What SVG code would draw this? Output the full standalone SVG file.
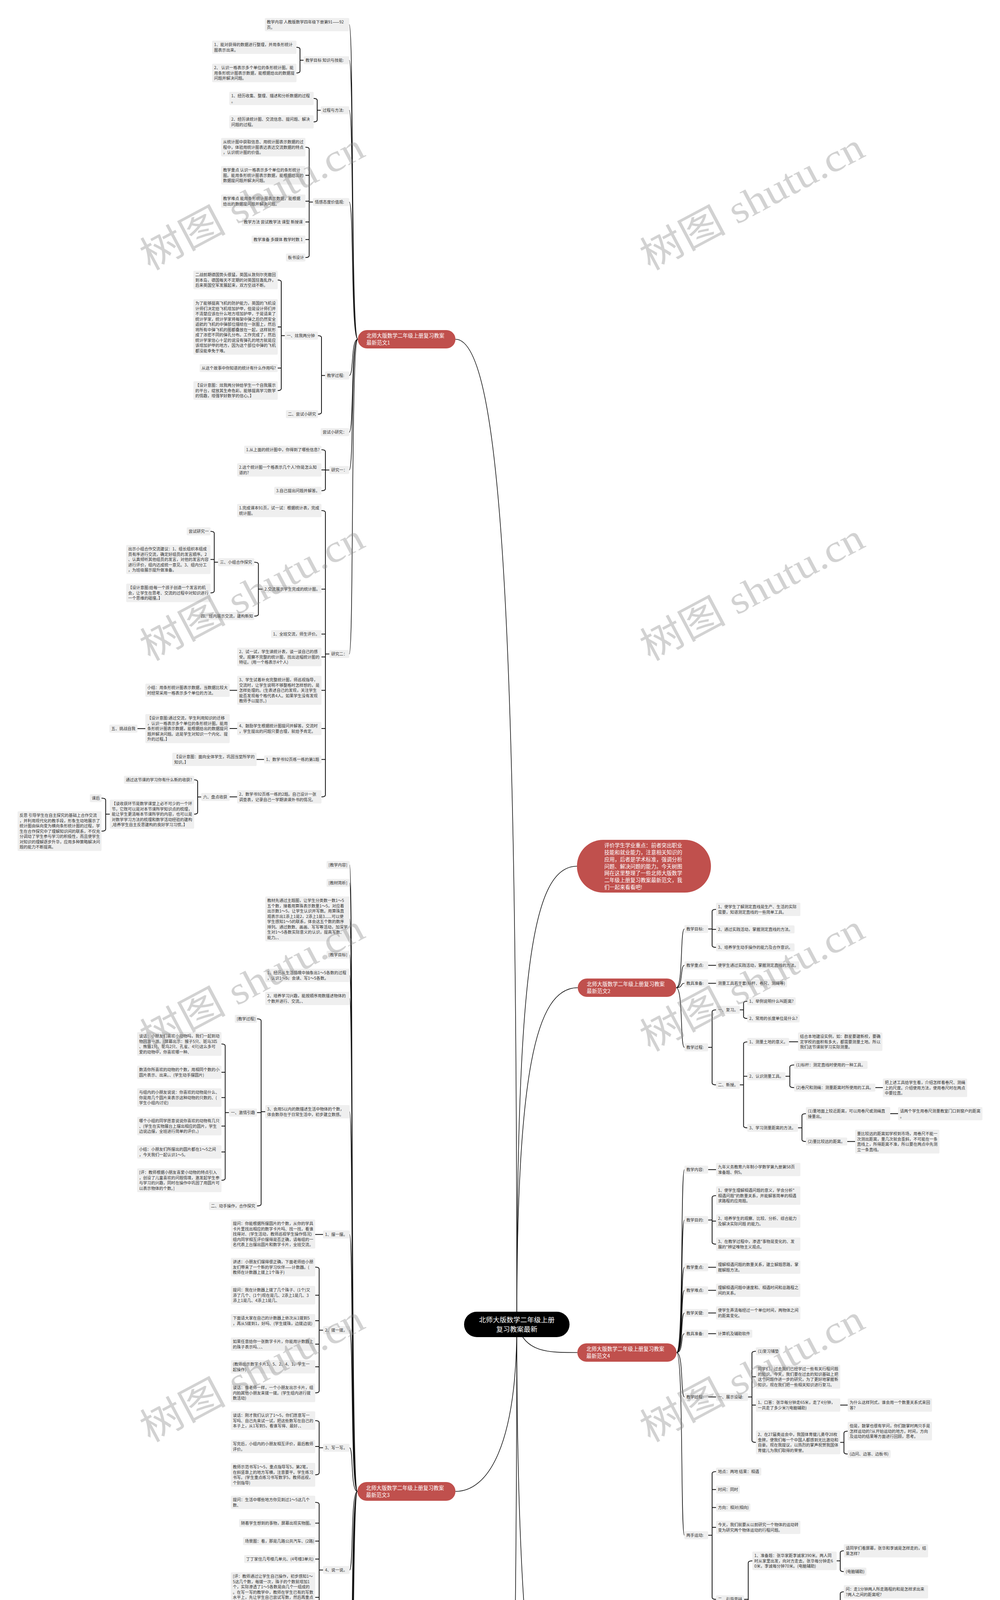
<svg xmlns="http://www.w3.org/2000/svg" width="2560" height="7147" viewBox="0 0 2560 7147">
<style>
.n rect{fill:#efefef;rx:3px}
.n text{font-family:"Noto Sans CJK SC","Liberation Sans",sans-serif;font-size:10.3px;fill:#333}
.br rect{fill:#c0504d}
.br text{font-family:"Noto Sans CJK SC","Liberation Sans",sans-serif;font-size:13.3px;fill:#fff}
.c{fill:none;stroke:#111;stroke-width:2}
.m{fill:none;stroke:#111;stroke-width:1.6}
.wm{font-family:"Liberation Serif","Noto Sans CJK SC",serif;font-size:100px;fill:#888;fill-opacity:.38}
</style>
<rect x="0" y="0" width="2560" height="7147" fill="#fff"/>
<g id="connectors">
<path class="m" d="M1323,3390.5C1323,1700 1290,868.5 1166,868.5"/>
<path class="m" d="M1323,3390.5C1323,2500 1360,2217.5 1477,2217.5"/>
<path class="m" d="M1323,3390.5C1323,2750 1370,2528.5 1479,2528.5"/>
<path class="m" d="M1323,3390.5C1345,3462.5 1400,3462.5 1478,3462.5"/>
<path class="m" d="M1323,3390.5C1323,4300 1380,4608 1478,4608"/>
<path class="m" d="M1323,3390.5C1323,3700 1250,3818 1166,3818"/>
<path class="m" d="M1323,3390.5C1323,5400 1250,5912.5 1166,5912.5"/>
<path class="m" d="M916,868.5C898,868.5 906,63 894,63M916,868.5C898,868.5 906,154.25 894,154.25M916,868.5C898,868.5 906,282.25 894,282.25M916,868.5C898,868.5 906,517.25 894,517.25M916,868.5C898,868.5 906,961.25 894,961.25M916,868.5C898,868.5 906,1106.25 894,1106.25M916,868.5C898,868.5 906,1203.25 894,1203.25M916,868.5C898,868.5 906,1674.25 894,1674.25"/>
<path class="c" d="M777,154.25H768M759,121Q768,121 768,126V181.75Q768,186.75 759,186.75"/>
<path class="c" d="M821,282.25H812M803,252Q812,252 812,257V307Q812,312 803,312"/>
<path class="c" d="M801,517.25H791.5M782,376.75Q791.5,376.75 791.5,381.75V654.25Q791.5,659.25 782,659.25M791.5,448.75H782M791.5,515H782M791.5,568.25H782M791.5,613.25H782"/>
<path class="c" d="M832,961.25H823M814,859.25Q823,859.25 823,864.25V1055.25Q823,1060.25 814,1060.25"/>
<path class="c" d="M729,859.25H720M711,716.75Q720,716.75 720,721.75V994.75Q720,999.75 711,999.75M720,837H711M720,942.25H711"/>
<path class="c" d="M843,1203.25H833M823,1151.25Q833,1151.25 833,1156.25V1251.25Q833,1256.25 823,1256.25M833,1203H823"/>
<path class="c" d="M843,1674.25H833M823,1307Q833,1307 833,1312V2035Q833,2040 823,2040M833,1508.25H823M833,1623.25H823M833,1681.75H823M833,1767.25H823M833,1865H823M833,1944.25H823"/>
<path class="c" d="M672,1508.25H661.5M651,1439.25Q661.5,1439.25 661.5,1444.25V1572.25Q661.5,1577.25 651,1577.25"/>
<path class="c" d="M558,1439.25H548.5M539,1360.25Q548.5,1360.25 548.5,1365.25V1512.75Q548.5,1517.75 539,1517.75M548.5,1432.25H539"/>
<path class="c" d="M607,1767.25H588M607,1865H588M372,1865.25H352M676,1944.25H657M607,2040H588"/>
<path class="c" d="M515,2040.25H506M497,1996.25Q506,1996.25 506,2001.25V2079.25Q506,2084.25 497,2084.25"/>
<path class="c" d="M281,2084.25H270.5M260,2043.25Q270.5,2043.25 270.5,2048.25V2122.75Q270.5,2127.75 260,2127.75"/>
<path class="m" d="M1731,2528.5C1749,2528.5 1741,2378.25 1752,2378.25M1731,2528.5C1749,2528.5 1741,2471.25 1752,2471.25M1731,2528.5C1749,2528.5 1741,2517.25 1752,2517.25M1731,2528.5C1749,2528.5 1741,2681.25 1752,2681.25"/>
<path class="c" d="M1813,2378.25H1823M1833,2328Q1823,2328 1823,2333V2420.25Q1823,2425.25 1833,2425.25M1823,2379.25H1833"/>
<path class="c" d="M1813,2471.25H1833M1813,2517.25H1833"/>
<path class="c" d="M1813,2681.25H1823M1833,2585.25Q1823,2585.25 1823,2590.25V2772.25Q1823,2777.25 1833,2777.25"/>
<path class="c" d="M1894,2585.25H1903.5M1913,2563.25Q1903.5,2563.25 1903.5,2568.25V2602.25Q1903.5,2607.25 1913,2607.25"/>
<path class="c" d="M1894,2777.25H1903.5M1913,2667.25Q1903.5,2667.25 1903.5,2672.25V2882.25Q1903.5,2887.25 1913,2887.25M1903.5,2755.25H1913"/>
<path class="c" d="M2020,2667H2043M2241,2784.25H2260M2279,2851H2299M2169,2922.25H2189"/>
<path class="c" d="M2011,2755.25H2022M2033,2726.25Q2022,2726.25 2022,2731.25V2779.25Q2022,2784.25 2033,2784.25"/>
<path class="c" d="M2043,2887.25H2053M2063,2851Q2053,2851 2053,2856V2917.25Q2053,2922.25 2063,2922.25"/>
<path class="m" d="M1732,3462.5C1750,3462.5 1742,2994.25 1752,2994.25M1732,3462.5C1750,3462.5 1742,3123.25 1752,3123.25M1732,3462.5C1750,3462.5 1742,3244.25 1752,3244.25M1732,3462.5C1750,3462.5 1742,3303.25 1752,3303.25M1732,3462.5C1750,3462.5 1742,3361.25 1752,3361.25M1732,3462.5C1750,3462.5 1742,3414.25 1752,3414.25M1732,3462.5C1750,3462.5 1742,3576.25 1752,3576.25M1732,3462.5C1750,3462.5 1742,3930.25 1752,3930.25"/>
<path class="c" d="M1813,2994.25H1833M1813,3244.25H1833M1813,3303.25H1833M1813,3361.25H1833M1813,3414.25H1833M1813,3576.25H1833M2151,3597H2170"/>
<path class="c" d="M1813,3123.25H1823M1833,3060.75Q1823,3060.75 1823,3065.75V3180Q1823,3185 1833,3185M1823,3126H1833"/>
<path class="c" d="M1915,3576.25H1925M1935,3459.25Q1925,3459.25 1925,3464.25V3687.5Q1925,3692.5 1935,3692.5M1925,3524.5H1935M1925,3597H1935"/>
<path class="c" d="M2151,3692.5H2160.5M2170,3663.75Q2160.5,3663.75 2160.5,3668.75V3717.25Q2160.5,3722.25 2170,3722.25"/>
<path class="c" d="M1813,3930.25H1823M1833,3767.25Q1823,3767.25 1823,3772.25V4089.25Q1823,4094.25 1833,4094.25M1823,3813.25H1833M1823,3859.25H1833M1823,3910H1833"/>
<path class="c" d="M1905,4094.25H1915.5M1926,3995.75Q1915.5,3995.75 1915.5,4000.75V4186.75Q1915.5,4191.75 1926,4191.75"/>
<path class="c" d="M2142,3995.75H2151M2160,3970Q2151,3970 2151,3975V4018.25Q2151,4023.25 2160,4023.25"/>
<path class="c" d="M2142,4191.75H2151M2160,4075Q2151,4075 2151,4080V4305Q2151,4310 2160,4310M2151,4126.25H2160M2151,4185.75H2160M2151,4252H2160"/>
<path class="m" d="M1732,4608C1750,4608 1742,4369 1753,4369M1732,4608C1750,4608 1742,4422.25 1753,4422.25M1732,4608C1750,4608 1742,4468.25 1753,4468.25M1732,4608C1750,4608 1742,4521 1753,4521M1732,4608C1750,4608 1742,4572.25 1753,4572.25M1732,4608C1750,4608 1742,4625 1753,4625M1732,4608C1750,4608 1742,4684 1753,4684M1732,4608C1750,4608 1742,4743 1753,4743M1732,4608C1750,4608 1742,4794.25 1753,4794.25M1732,4608C1750,4608 1742,4847 1753,4847"/>
<path class="m" d="M915,3818C897,3818 905,2214.25 895,2214.25M915,3818C897,3818 905,2260.25 895,2260.25M915,3818C897,3818 905,2352.5 895,2352.5M915,3818C897,3818 905,2444.25 895,2444.25M915,3818C897,3818 905,2497 895,2497M915,3818C897,3818 905,2556 895,2556M915,3818C897,3818 905,2846 895,2846M915,3818C897,3818 905,3160.25 895,3160.25M915,3818C897,3818 905,3405.25 895,3405.25M915,3818C897,3818 905,3706.25 895,3706.25M915,3818C897,3818 905,4019.25 895,4019.25M915,3818C897,3818 905,4336.25 895,4336.25M915,3818C897,3818 905,4497.25 895,4497.25M915,3818C897,3818 905,4602.25 895,4602.25M915,3818C897,3818 905,4706.25 895,4706.25M915,3818C897,3818 905,4887.25 895,4887.25M915,3818C897,3818 905,5107.25 895,5107.25M915,3818C897,3818 905,5259.25 895,5259.25M915,3818C897,3818 905,5423 895,5423"/>
<path class="c" d="M679,2846H668.5M658,2608.25Q668.5,2608.25 668.5,2613.25V3082.25Q668.5,3087.25 658,3087.25M668.5,2848.25H658"/>
<path class="c" d="M586,2848.25H576.5M567,2672.5Q576.5,2672.5 576.5,2677.5V3016.5Q576.5,3021.5 567,3021.5M576.5,2745H567M576.5,2809.75H567M576.5,2882.75H567M576.5,2949H567"/>
<path class="c" d="M827,3160.25H807M785,4497.25H765M697,4647.25H675M785,4706.25H765M714,5107.25H693M714,5259.25H693M679,5423H658"/>
<path class="c" d="M827,3405.25H817M807,3243.75Q817,3243.75 817,3248.75V3560.75Q817,3565.75 807,3565.75M817,3315.75H807M817,3381H807M817,3441H807M817,3499H807"/>
<path class="c" d="M827,3706.25H817M807,3636.75Q817,3636.75 817,3641.75V3770.5Q817,3775.5 807,3775.5M817,3703H807"/>
<path class="c" d="M827,4019.25H817M807,3846Q817,3846 817,3851V4183.25Q817,4188.25 807,4188.25M817,3899.25H807M817,3945.25H807M817,3991.25H807M817,4089.25H807"/>
<path class="c" d="M714,4336.25H703.5M693,4241Q703.5,4241 703.5,4246V4426Q703.5,4431 693,4431M703.5,4300H693M703.5,4365.75H693"/>
<path class="c" d="M818,4602.25H807M796,4556.25Q807,4556.25 807,4561.25V4642.25Q807,4647.25 796,4647.25M807,4602.25H796"/>
<path class="c" d="M807,4887.25H796.5M786,4777.75Q796.5,4777.75 796.5,4782.75V4989.25Q796.5,4994.25 786,4994.25M796.5,4856.5H786M796.5,4921.25H786"/>
<path class="m" d="M915,5912.5C897,5912.5 905,5529 895,5529M915,5912.5C897,5912.5 905,5626.25 895,5626.25M915,5912.5C897,5912.5 905,5822.25 895,5822.25M915,5912.5C897,5912.5 905,5978 895,5978M915,5912.5C897,5912.5 905,6297.25 895,6297.25"/>
<path class="c" d="M832,5626.25H822.5M813,5589Q822.5,5589 822.5,5594V5656.75Q822.5,5661.75 813,5661.75"/>
<path class="c" d="M597,5661.75H587.5M578,5640.25Q587.5,5640.25 587.5,5645.25V5681.25Q587.5,5686.25 578,5686.25"/>
<path class="c" d="M832,5822.25H822.5M813,5765.25Q822.5,5765.25 822.5,5770.25V5874.25Q822.5,5879.25 813,5879.25"/>
<path class="c" d="M759,5765.25H749M739,5738Q749,5738 749,5743V5785.25Q749,5790.25 739,5790.25"/>
<path class="c" d="M530,5790.25H510M364,6550.25H343M351,6758.25H330M297,6856H279M331,7091.25H312"/>
<path class="c" d="M759,5879.25H749M739,5849.75Q749,5849.75 749,5854.75V5903.25Q749,5908.25 739,5908.25"/>
<path class="c" d="M679,5978H669M659,5954.25Q669,5954.25 669,5959.25V5995.25Q669,6000.25 659,6000.25"/>
<path class="c" d="M739,6297.25H729M719,6045.25Q729,6045.25 729,6050.25V6545.25Q729,6550.25 719,6550.25"/>
<path class="c" d="M535,6550.25H524M513,6092.25Q524,6092.25 524,6097.25V7007.25Q524,7012.25 513,7012.25M524,6163.5H513M524,6300.25H513M524,6448.25H513M524,6550.25H513M524,6648.25H513M524,6758.25H513M524,6804.25H513M524,6856H513"/>
<path class="c" d="M297,6163.5H288M279,6137.25Q288,6137.25 288,6142.25V6183Q288,6188 279,6188"/>
<path class="c" d="M469,6300.25H458M447,6247Q458,6247 458,6252V6347Q458,6352 447,6352M458,6300.25H447"/>
<path class="c" d="M458,6448.25H448.5M439,6412Q448.5,6412 448.5,6417V6478.5Q448.5,6483.5 439,6483.5"/>
<path class="c" d="M396,6648.25H385.5M375,6594.25Q385.5,6594.25 385.5,6599.25V6694.75Q385.5,6699.75 375,6699.75M385.5,6641.25H375"/>
<path class="c" d="M406,7012.25H395.5M385,6932.25Q395.5,6932.25 395.5,6937.25V7086.25Q395.5,7091.25 385,7091.25M395.5,7023.25H385"/>
<path class="c" d="M312,6932.25H301.5M291,6909.25Q301.5,6909.25 301.5,6914.25V6950.25Q301.5,6955.25 291,6955.25"/>
<path class="c" d="M331,7023.25H321.5M312,7001.25Q321.5,7001.25 321.5,7006.25V7041.25Q321.5,7046.25 312,7046.25"/>
</g>
<g id="root"><rect x="1188" y="3358" width="270" height="65" rx="32.5" fill="#000"/><text x="1323" y="3385" text-anchor="middle" font-family="Noto Sans CJK SC, sans-serif" font-size="17.6" fill="#fff">北师大版数学二年级上册<tspan x="1323" dy="24">复习教案最新</tspan></text></g>
<g id="intro" class="br"><rect x="1477" y="2150" width="343" height="135" rx="67"/><text x="1547" y="2169.4">评价学生学业重点：前者突出职业<tspan x="1547" dy="17.75">技能和就业能力，注意相关知识的</tspan><tspan x="1547" dy="17.75">应用，后者是学术标准，强调分析</tspan><tspan x="1547" dy="17.75">问题、解决问题的能力。今天树图</tspan><tspan x="1547" dy="17.75">网在这里整理了一些北师大版数学</tspan><tspan x="1547" dy="17.75">二年级上册复习教案最新范文，我</tspan><tspan x="1547" dy="17.75">们一起来看看吧!</tspan></text></g>
<g id="b1" class="br"><rect x="916" y="845" width="250" height="47" rx="23.5"/><text x="938" y="864.2">北师大版数学二年级上册复习教案<tspan x="938" dy="18">最新范文1</tspan></text></g>
<g id="b2" class="br"><rect x="1479" y="2505" width="252" height="47" rx="23.5"/><text x="1502" y="2524.2">北师大版数学二年级上册复习教案<tspan x="1502" dy="18">最新范文2</tspan></text></g>
<g id="b3" class="br"><rect x="915" y="3794" width="251" height="48" rx="24"/><text x="937" y="3813.7">北师大版数学二年级上册复习教案<tspan x="937" dy="18">最新范文3</tspan></text></g>
<g id="b4" class="br"><rect x="1478" y="3439" width="254" height="47" rx="23.5"/><text x="1501" y="3458.2">北师大版数学二年级上册复习教案<tspan x="1501" dy="18">最新范文4</tspan></text></g>
<g id="b5" class="br"><rect x="915" y="5889" width="251" height="47" rx="23.5"/><text x="937" y="5908.2">北师大版数学二年级上册复习教案<tspan x="937" dy="18">最新范文5</tspan></text></g>
<g id="b6" class="br"><rect x="1478" y="4585" width="254" height="46" rx="23"/><text x="1501" y="4603.7">北师大版数学二年级上册复习教案<tspan x="1501" dy="18">最新相关文章:</tspan></text></g>
<g id="n1a" class="n"><rect x="678" y="46" width="216" height="34"/><text x="683" y="60.1">教学内容 人教版数学四年级下册第91——92<tspan x="683" dy="13.5">页。</tspan></text></g>
<g id="n1b" class="n"><rect x="777" y="144" width="117" height="20.5"/><text x="782" y="158.1">教学目标 知识与技能:</text></g>
<g id="n1b1" class="n"><rect x="543" y="104" width="216" height="34"/><text x="548" y="118.1">1、能对获得的数据进行整理，并用条形统计<tspan x="548" dy="13.5">图表示出来。</tspan></text></g>
<g id="n1b2" class="n"><rect x="543" y="163" width="216" height="47.5"/><text x="548" y="177.1">2、 认识一格表示多个单位的条形统计图。能<tspan x="548" dy="13.5">用条形统计图表示数据，能根据给出的数据提</tspan><tspan x="548" dy="13.5">问题并解决问题。</tspan></text></g>
<g id="n1c" class="n"><rect x="821" y="272" width="73" height="20.5"/><text x="826" y="286.1">过程与方法:</text></g>
<g id="n1c1" class="n"><rect x="587" y="235" width="216" height="34"/><text x="592" y="249.1">1、经历收集、整理、描述和分析数据的过程<tspan x="592" dy="13.5">。</tspan></text></g>
<g id="n1c2" class="n"><rect x="587" y="295" width="216" height="34"/><text x="592" y="309.1">2、经历读统计图、交流信息、提问题、解决<tspan x="592" dy="13.5">问题的过程。</tspan></text></g>
<g id="n1d" class="n"><rect x="801" y="507" width="93" height="20.5"/><text x="806" y="521.1">情感态度价值观:</text></g>
<g id="n1d1" class="n"><rect x="566" y="353" width="216" height="47.5"/><text x="571" y="367.1">从统计图中获取信息、用统计图表示数据的过<tspan x="571" dy="13.5">程中，体验用统计图表达表达交流数据的特点</tspan><tspan x="571" dy="13.5">，认识统计图的价值。</tspan></text></g>
<g id="n1d2" class="n"><rect x="566" y="425" width="216" height="47.5"/><text x="571" y="439.1">教学重点 认识一格表示多个单位的条形统计<tspan x="571" dy="13.5">图。能用条形统计图表示数据，能根据给出的</tspan><tspan x="571" dy="13.5">数据提问题并解决问题。</tspan></text></g>
<g id="n1d3" class="n"><rect x="566" y="498" width="216" height="34"/><text x="571" y="512.1">教学难点 能用条形统计图表示数据，能根据<tspan x="571" dy="13.5">给出的数据提问题并解决问题。</tspan></text></g>
<g id="n1d4" class="n"><rect x="619" y="558" width="163" height="20.5"/><text x="624" y="572.1">教学方法 尝试教学法 课型 新授课</text></g>
<g id="n1d5" class="n"><rect x="644" y="603" width="138" height="20.5"/><text x="649" y="617.1">教学准备 多媒体 教学时数 1</text></g>
<g id="n1d6" class="n"><rect x="732" y="649" width="50" height="20.5"/><text x="737" y="663.1">板书设计</text></g>
<g id="n1e" class="n"><rect x="832" y="951" width="62" height="20.5"/><text x="837" y="965.1">教学过程:</text></g>
<g id="n1e1" class="n"><rect x="729" y="849" width="85" height="20.5"/><text x="734" y="863.1">一、炫我两分钟</text></g>
<g id="n1e1a" class="n"><rect x="495" y="693" width="216" height="47.5"/><text x="500" y="707.1">二战前期德国势头很猛，英国从敦刻尔克撤回<tspan x="500" dy="13.5">到本岛，德国每天不定期的对英国狂轰乱炸，</tspan><tspan x="500" dy="13.5">后来英国空军发展起来，双方空战不断。</tspan></text></g>
<g id="n1e1b" class="n"><rect x="495" y="766" width="216" height="142"/><text x="500" y="780.1">为了能够提高飞机的防护能力，英国的飞机设<tspan x="500" dy="13.5">计师们决定给飞机增加护甲，但是设计师们并</tspan><tspan x="500" dy="13.5">不清楚应该在什么地方增加护甲，于是请来了</tspan><tspan x="500" dy="13.5">统计学家，统计学家将每架中弹之后仍然安全</tspan><tspan x="500" dy="13.5">返航的飞机的中弹部位描绘在一张图上，然后</tspan><tspan x="500" dy="13.5">将所有中弹飞机的图都叠放在一起，这样就形</tspan><tspan x="500" dy="13.5">成了浓密不同的弹孔分布。工作完成了，然后</tspan><tspan x="500" dy="13.5">统计学家信心十足的说没有弹孔的地方就是应</tspan><tspan x="500" dy="13.5">该增加护甲的地方，因为这个部位中弹的飞机</tspan><tspan x="500" dy="13.5">都没能幸免于难。</tspan></text></g>
<g id="n1e1c" class="n"><rect x="511" y="932" width="200" height="20.5"/><text x="516" y="946.1">从这个故事中你知道的统计有什么作用吗?</text></g>
<g id="n1e1d" class="n"><rect x="495" y="976" width="216" height="47.5"/><text x="500" y="990.1">【设计意图：炫我两分钟给学生一个自我展示<tspan x="500" dy="13.5">的平台，绽放其生命色彩。能够提高学习数学</tspan><tspan x="500" dy="13.5">的情趣，增强学好数学的信心。】</tspan></text></g>
<g id="n1e2" class="n"><rect x="732" y="1050" width="82" height="20.5"/><text x="737" y="1064.1">二、尝试小研究</text></g>
<g id="n1f" class="n"><rect x="821" y="1096" width="73" height="20.5"/><text x="826" y="1110.1">尝试小研究：</text></g>
<g id="n1g" class="n"><rect x="843" y="1193" width="51" height="20.5"/><text x="848" y="1207.1">研究一：</text></g>
<g id="n1g1" class="n"><rect x="625" y="1141" width="198" height="20.5"/><text x="630" y="1155.1">1.从上面的统计图中，你得到了哪些信息?</text></g>
<g id="n1g2" class="n"><rect x="607" y="1186" width="216" height="34"/><text x="612" y="1200.1">2.这个统计图一个格表示几个人?你是怎么知<tspan x="612" dy="13.5">道的?</tspan></text></g>
<g id="n1g3" class="n"><rect x="702" y="1246" width="121" height="20.5"/><text x="707" y="1260.1">3.自己提出问题并解答。</text></g>
<g id="n1h" class="n"><rect x="843" y="1664" width="51" height="20.5"/><text x="848" y="1678.1">研究二：</text></g>
<g id="n1h1" class="n"><rect x="607" y="1290" width="216" height="34"/><text x="612" y="1304.1">1.完成课本91页，试一试：根据统计表，完成<tspan x="612" dy="13.5">统计图。</tspan></text></g>
<g id="n1h2" class="n"><rect x="672" y="1498" width="151" height="20.5"/><text x="677" y="1512.1">2.交流展示学生完成的统计图。</text></g>
<g id="n1h2a" class="n"><rect x="558" y="1429" width="93" height="20.5"/><text x="563" y="1443.1">三、小组合作探究</text></g>
<g id="n1h2a1" class="n"><rect x="478" y="1350" width="61" height="20.5"/><text x="483" y="1364.1">尝试研究一</text></g>
<g id="n1h2a2" class="n"><rect x="323" y="1395" width="216" height="74.5"/><text x="328" y="1409.1">出示小组合作交流建议：1、组长组织本组成<tspan x="328" dy="13.5">员有序进行交流，确定好组员的发言顺序。2</tspan><tspan x="328" dy="13.5">、认真倾听其他组员的发言，对他的发言内容</tspan><tspan x="328" dy="13.5">进行评价，组内达成统一意见。3、组内分工</tspan><tspan x="328" dy="13.5">，为班级展示提升做准备。</tspan></text></g>
<g id="n1h2a3" class="n"><rect x="323" y="1494" width="216" height="47.5"/><text x="328" y="1508.1">【设计意图:给每一个孩子创造一个发言的机<tspan x="328" dy="13.5">会，让学生在思考、交流的过程中对知识进行</tspan><tspan x="328" dy="13.5">一个思维的碰撞。】</tspan></text></g>
<g id="n1h2b" class="n"><rect x="509" y="1567" width="142" height="20.5"/><text x="514" y="1581.1">四、班内展示交流，建构新知</text></g>
<g id="n1h3" class="n"><rect x="694" y="1613" width="129" height="20.5"/><text x="699" y="1627.1">1、全班交流，师生评价。</text></g>
<g id="n1h4" class="n"><rect x="607" y="1658" width="216" height="47.5"/><text x="612" y="1672.1">2、试一试，学生读统计表，谈一谈自己的感<tspan x="612" dy="13.5">受。观察不完整的统计图，找出这幅统计图的</tspan><tspan x="612" dy="13.5">特征。(用一个格表示4个人)</tspan></text></g>
<g id="n1h5" class="n"><rect x="607" y="1730" width="216" height="74.5"/><text x="612" y="1744.1">3、学生试着补充完整统计图，师巡视指导，<tspan x="612" dy="13.5">交流时，让学生说明不够整格时怎样想的，是</tspan><tspan x="612" dy="13.5">怎样处理的。(生表述自己的发现，关注学生</tspan><tspan x="612" dy="13.5">能否发现每个格代表4人。如果学生没有发现</tspan><tspan x="612" dy="13.5">教师予以提示。)</tspan></text></g>
<g id="n1h5a" class="n"><rect x="372" y="1750" width="216" height="34"/><text x="377" y="1764.1">小结：用条形统计图表示数据，当数据比较大<tspan x="377" dy="13.5">时经常采用一格表示多个单位的方法。</tspan></text></g>
<g id="n1h6" class="n"><rect x="607" y="1848" width="216" height="34"/><text x="612" y="1862.1">4、鼓励学生根据统计图提问并解答。交流时<tspan x="612" dy="13.5">，学生提出的问题只要合理，就给予肯定。</tspan></text></g>
<g id="n1h6a" class="n"><rect x="372" y="1828" width="216" height="74.5"/><text x="377" y="1842.1">【设计意图:通过交流，学生利用知识的迁移<tspan x="377" dy="13.5">，认识一格表示多个单位的条形统计图。能用</tspan><tspan x="377" dy="13.5">条形统计图表示数据，能根据给出的数据提问</tspan><tspan x="377" dy="13.5">题并解决问题。这是学生对知识一个内化、提</tspan><tspan x="377" dy="13.5">升的过程。】</tspan></text></g>
<g id="n1h6b" class="n"><rect x="280" y="1855" width="72" height="20.5"/><text x="285" y="1869.1">五、挑战自我</text></g>
<g id="n1h7" class="n"><rect x="676" y="1934" width="147" height="20.5"/><text x="681" y="1948.1">1、数学书92页练一练的第1题</text></g>
<g id="n1h7a" class="n"><rect x="441" y="1927" width="216" height="34"/><text x="446" y="1941.1">【设计意图：面向全体学生，巩固当堂所学的<tspan x="446" dy="13.5">知识。】</tspan></text></g>
<g id="n1h8" class="n"><rect x="607" y="2023" width="216" height="34"/><text x="612" y="2037.1">2、数学书92页练一练的2题。自己设计一张<tspan x="612" dy="13.5">调查表，记录自己一学期读课外书的情况。</tspan></text></g>
<g id="n1h8a" class="n"><rect x="515" y="2030" width="73" height="20.5"/><text x="520" y="2044.1">六、盘点收获</text></g>
<g id="n1h8b" class="n"><rect x="317" y="1986" width="180" height="20.5"/><text x="322" y="2000.1">通过这节课的学习你有什么新的收获?</text></g>
<g id="n1h8c" class="n"><rect x="281" y="2047" width="216" height="74.5"/><text x="286" y="2061.1">【谈收获环节是数学课堂上必不可少的一个环<tspan x="286" dy="13.5">节，它既可以是对本节课所学知识点的梳理，</tspan><tspan x="286" dy="13.5">能让学生更清晰本节课所学的内容，也可以是</tspan><tspan x="286" dy="13.5">对数学学习方法的梳理和数学活动经验的建构</tspan><tspan x="286" dy="13.5">,培养学生自主反思建构的良好学习习惯。】</tspan></text></g>
<g id="n1h8d" class="n"><rect x="230" y="2033" width="30" height="20.5"/><text x="235" y="2047.1">课后</text></g>
<g id="n1h8e" class="n"><rect x="45" y="2077" width="215" height="101.5"/><text x="50" y="2091.1">反思 引导学生在自主探究的基础上合作交流<tspan x="50" dy="13.5">，并利用现代化的教手段，形象生动地展示了</tspan><tspan x="50" dy="13.5">统计图由纵向变为横向条形统计图的过程，学</tspan><tspan x="50" dy="13.5">生在合作探究中了理解知识间的联系，不仅充</tspan><tspan x="50" dy="13.5">分调动了学生参与学习的积极性，而且使学生</tspan><tspan x="50" dy="13.5">对知识的理解逐步升华，应用多种策略解决问</tspan><tspan x="50" dy="13.5">题的能力不断提高。</tspan></text></g>
<g id="n2a" class="n"><rect x="1752" y="2368" width="61" height="20.5"/><text x="1757" y="2382.1">教学目标:</text></g>
<g id="n2a1" class="n"><rect x="1833" y="2311" width="216" height="34"/><text x="1838" y="2325.1">1、使学生了解测定直线是生产、生活的实际<tspan x="1838" dy="13.5">需要，知道测定直线的一些简单工具。</tspan></text></g>
<g id="n2a2" class="n"><rect x="1833" y="2369" width="201" height="20.5"/><text x="1838" y="2383.1">2、通过实践活动，掌握测定直线的方法。</text></g>
<g id="n2a3" class="n"><rect x="1833" y="2415" width="201" height="20.5"/><text x="1838" y="2429.1">3、培养学生动手操作的能力及合作意识。</text></g>
<g id="n2b" class="n"><rect x="1752" y="2461" width="61" height="20.5"/><text x="1757" y="2475.1">教学重点:</text></g>
<g id="n2b1" class="n"><rect x="1833" y="2461" width="213" height="20.5"/><text x="1838" y="2475.1">使学生通过实践活动，掌握测定直线的方法。</text></g>
<g id="n2c" class="n"><rect x="1752" y="2507" width="61" height="20.5"/><text x="1757" y="2521.1">教具准备:</text></g>
<g id="n2c1" class="n"><rect x="1833" y="2507" width="182" height="20.5"/><text x="1838" y="2521.1">测量工具若干套(标杆、卷尺、测绳等)</text></g>
<g id="n2d" class="n"><rect x="1752" y="2671" width="61" height="20.5"/><text x="1757" y="2685.1">教学过程:</text></g>
<g id="n2d1" class="n"><rect x="1833" y="2575" width="61" height="20.5"/><text x="1838" y="2589.1">一、复习。</text></g>
<g id="n2d1a" class="n"><rect x="1913" y="2553" width="124" height="20.5"/><text x="1918" y="2567.1">1、举例说明什么叫距离?</text></g>
<g id="n2d1b" class="n"><rect x="1913" y="2597" width="134" height="20.5"/><text x="1918" y="2611.1">2、常用的长度单位是什么?</text></g>
<g id="n2d2" class="n"><rect x="1833" y="2767" width="61" height="20.5"/><text x="1838" y="2781.1">二、新授。</text></g>
<g id="n2d2a" class="n"><rect x="1913" y="2657" width="107" height="20.5"/><text x="1918" y="2671.1">1、测量土地的意义。</text></g>
<g id="n2d2a1" class="n"><rect x="2043" y="2643" width="216" height="47.5"/><text x="2048" y="2657.1">结合本地建设实例，如：群星要建新校，要确<tspan x="2048" dy="13.5">定学校的面积有多大，都需要测量土地。所以</tspan><tspan x="2048" dy="13.5">我们这节课就学习实际测量。</tspan></text></g>
<g id="n2d2b" class="n"><rect x="1913" y="2745" width="98" height="20.5"/><text x="1918" y="2759.1">2、认识测量工具。</text></g>
<g id="n2d2b1" class="n"><rect x="2033" y="2716" width="188" height="20.5"/><text x="2038" y="2730.1">(1)标杆：测定直线时使用的一种工具。</text></g>
<g id="n2d2b2" class="n"><rect x="2033" y="2774" width="208" height="20.5"/><text x="2038" y="2788.1">(2)卷尺和测绳：测量距离时所使用的工具。</text></g>
<g id="n2d2b2a" class="n"><rect x="2260" y="2761" width="216" height="47.5"/><text x="2265" y="2775.1">把上述工具给学生看，介绍怎样看卷尺、测绳<tspan x="2265" dy="13.5">上的尺度。介绍使用方法，使用卷尺时在两点</tspan><tspan x="2265" dy="13.5">中要拉直。</tspan></text></g>
<g id="n2d2c" class="n"><rect x="1913" y="2877" width="130" height="20.5"/><text x="1918" y="2891.1">3、学习测量距离的方法。</text></g>
<g id="n2d2c1" class="n"><rect x="2063" y="2834" width="216" height="34"/><text x="2068" y="2848.1">(1)量地面上较近距离，可以用卷尺或测绳直<tspan x="2068" dy="13.5">接量出。</tspan></text></g>
<g id="n2d2c1a" class="n"><rect x="2299" y="2834" width="216" height="34"/><text x="2304" y="2848.1">请两个学生用卷尺测量教室门口到窗户的距离<tspan x="2304" dy="13.5">。</tspan></text></g>
<g id="n2d2c2" class="n"><rect x="2063" y="2912" width="106" height="20.5"/><text x="2068" y="2926.1">(2)量比较远的距离。</text></g>
<g id="n2d2c2a" class="n"><rect x="2189" y="2892" width="216" height="61"/><text x="2194" y="2906.1">量比较远的距离如学校到市场，用卷尺不能一<tspan x="2194" dy="13.5">次测出距离，量几次就会歪斜，不可能在一条</tspan><tspan x="2194" dy="13.5">直线上，所得距离不准，所以要在两点中先测</tspan><tspan x="2194" dy="13.5">立一条直线。</tspan></text></g>
<g id="n4a" class="n"><rect x="1752" y="2984" width="61" height="20.5"/><text x="1757" y="2998.1">教学内容:</text></g>
<g id="n4a1" class="n"><rect x="1833" y="2977" width="216" height="34"/><text x="1838" y="2991.1">九年义务教育六年制小学数学第九册第58页<tspan x="1838" dy="13.5">准备题、例5。</tspan></text></g>
<g id="n4b" class="n"><rect x="1752" y="3113" width="61" height="20.5"/><text x="1757" y="3127.1">教学目的:</text></g>
<g id="n4b1" class="n"><rect x="1833" y="3037" width="216" height="47.5"/><text x="1838" y="3051.1">1、使学生理解相遇问题的意义，学会分析"<tspan x="1838" dy="13.5">相遇问题"的数量关系，并能解答简单的相遇</tspan><tspan x="1838" dy="13.5">求路程的应用题。</tspan></text></g>
<g id="n4b2" class="n"><rect x="1833" y="3109" width="216" height="34"/><text x="1838" y="3123.1">2、培养学生的观察、比较、分析、综合能力<tspan x="1838" dy="13.5">及解决实际问题 的能力。</tspan></text></g>
<g id="n4b3" class="n"><rect x="1833" y="3168" width="216" height="34"/><text x="1838" y="3182.1">3、在教学过程中，渗透"事物是变化的、发<tspan x="1838" dy="13.5">展的"辨证唯物主义观点。</tspan></text></g>
<g id="n4c" class="n"><rect x="1752" y="3234" width="61" height="20.5"/><text x="1757" y="3248.1">教学重点:</text></g>
<g id="n4c1" class="n"><rect x="1833" y="3227" width="216" height="34"/><text x="1838" y="3241.1">理解相遇问题的数量关系，建立解题思路，掌<tspan x="1838" dy="13.5">握解题方法。</tspan></text></g>
<g id="n4d" class="n"><rect x="1752" y="3293" width="61" height="20.5"/><text x="1757" y="3307.1">教学难点:</text></g>
<g id="n4d1" class="n"><rect x="1833" y="3286" width="216" height="34"/><text x="1838" y="3300.1">理解相遇问题中速度和、相遇时间和总路程之<tspan x="1838" dy="13.5">间的关系。</tspan></text></g>
<g id="n4e" class="n"><rect x="1752" y="3351" width="61" height="20.5"/><text x="1757" y="3365.1">教学关键:</text></g>
<g id="n4e1" class="n"><rect x="1833" y="3344" width="216" height="34"/><text x="1838" y="3358.1">使学生弄清每经过一个单位时间，两物体之间<tspan x="1838" dy="13.5">的距离变化。</tspan></text></g>
<g id="n4f" class="n"><rect x="1752" y="3404" width="61" height="20.5"/><text x="1757" y="3418.1">教具准备:</text></g>
<g id="n4f1" class="n"><rect x="1833" y="3404" width="93" height="20.5"/><text x="1838" y="3418.1">计算机及辅助软件</text></g>
<g id="n4g" class="n"><rect x="1752" y="3566" width="61" height="20.5"/><text x="1757" y="3580.1">教学过程:</text></g>
<g id="n4g1" class="n"><rect x="1833" y="3566" width="82" height="20.5"/><text x="1838" y="3580.1">一、展示设疑:</text></g>
<g id="n4g1a" class="n"><rect x="1935" y="3449" width="62" height="20.5"/><text x="1940" y="3463.1">(1)复习铺垫</text></g>
<g id="n4g1b" class="n"><rect x="1935" y="3494" width="216" height="61"/><text x="1940" y="3508.1">同学们，过去我们已经学过一些有关行程问题<tspan x="1940" dy="13.5">的知识。今天，我们要在过去的知识基础上把</tspan><tspan x="1940" dy="13.5">这个问题作进一步的研究，为了更好地掌握新</tspan><tspan x="1940" dy="13.5">知识，现在我们把一些相关知识进行复习。</tspan></text></g>
<g id="n4g1c" class="n"><rect x="1935" y="3580" width="216" height="34"/><text x="1940" y="3594.1">1、口答：张华每分钟走65米，走了4分钟，<tspan x="1940" dy="13.5">一共走了多少米?(电脑辅助)</tspan></text></g>
<g id="n4g1c1" class="n"><rect x="2170" y="3580" width="216" height="34"/><text x="2175" y="3594.1">为什么这样列式，谁会用一个数量关系式来回<tspan x="2175" dy="13.5">答?</tspan></text></g>
<g id="n4g1d" class="n"><rect x="1935" y="3662" width="216" height="61"/><text x="1940" y="3676.1">2、在27届奥运会中，我国体育健儿勇夺28枚<tspan x="1940" dy="13.5">金牌，使我们每一个中国人都感到无比激动和</tspan><tspan x="1940" dy="13.5">自豪。现在我提议，以热烈的掌声祝贺我国体</tspan><tspan x="1940" dy="13.5">育健儿为我们取得的荣誉。</tspan></text></g>
<g id="n4g1d1" class="n"><rect x="2170" y="3640" width="216" height="47.5"/><text x="2175" y="3654.1">但是，鼓掌也很有学问，你们鼓掌时两只手是<tspan x="2175" dy="13.5">怎样运动的?从开始运动的地方，时间，方向</tspan><tspan x="2175" dy="13.5">及运动的结果等方面进行回顾，思考。</tspan></text></g>
<g id="n4g1d2" class="n"><rect x="2170" y="3712" width="110" height="20.5"/><text x="2175" y="3726.1">(边问、边答、边板书)</text></g>
<g id="n4h" class="n"><rect x="1752" y="3920" width="61" height="20.5"/><text x="1757" y="3934.1">两手运动:</text></g>
<g id="n4h1" class="n"><rect x="1833" y="3757" width="116" height="20.5"/><text x="1838" y="3771.1">地点：两地 结果：相遇</text></g>
<g id="n4h2" class="n"><rect x="1833" y="3803" width="61" height="20.5"/><text x="1838" y="3817.1">时间：同时</text></g>
<g id="n4h3" class="n"><rect x="1833" y="3849" width="88" height="20.5"/><text x="1838" y="3863.1">方向：相对(相向)</text></g>
<g id="n4h4" class="n"><rect x="1833" y="3893" width="216" height="34"/><text x="1838" y="3907.1">今天，我们就要从以前研究一个物体的运动转<tspan x="1838" dy="13.5">变为研究两个物体运动的行程问题。</tspan></text></g>
<g id="n4h5" class="n"><rect x="1833" y="4084" width="72" height="20.5"/><text x="1838" y="4098.1">二、引导思疑</text></g>
<g id="n4h5a" class="n"><rect x="1926" y="3972" width="216" height="47.5"/><text x="1931" y="3986.1">1、准备题：张华家距李诚家390米。两人同<tspan x="1931" dy="13.5">时从家里出发，向对方走去。张华每分钟走6</tspan><tspan x="1931" dy="13.5">0米，李诚每分钟70米。(电脑辅助)</tspan></text></g>
<g id="n4h5a1" class="n"><rect x="2160" y="3953" width="216" height="34"/><text x="2165" y="3967.1">请同学们看屏幕，张华和李诚是怎样走的，结<tspan x="2165" dy="13.5">果怎样?</tspan></text></g>
<g id="n4h5a2" class="n"><rect x="2160" y="4013" width="58" height="20.5"/><text x="2165" y="4027.1">(电脑辅助)</text></g>
<g id="n4h5b" class="n"><rect x="1926" y="4168" width="216" height="47.5"/><text x="1931" y="4182.1">2、(1)先让学生独立填写表格中走的时间是1<tspan x="1931" dy="13.5">分钟这一行。完成后利用电脑演示两人同时出</tspan><tspan x="1931" dy="13.5">发相向而行1分钟的过程并集体校对答案。</tspan></text></g>
<g id="n4h5b1" class="n"><rect x="2160" y="4058" width="216" height="34"/><text x="2165" y="4072.1">问：走1分钟两人所走路程的和是怎样求出来<tspan x="2165" dy="13.5">?两人之间的距离呢?</tspan></text></g>
<g id="n4h5b2" class="n"><rect x="2160" y="4116" width="205" height="20.5"/><text x="2165" y="4130.1">(2)让学生把表格填完，利用电脑演示来校对</text></g>
<g id="n4h5b3" class="n"><rect x="2160" y="4162" width="216" height="47.5"/><text x="2165" y="4176.1">(3)引导学生观察并思考，随着两人走的时间一<tspan x="2165" dy="13.5">分一分地增加，两人所走路程的和怎样变化?</tspan><tspan x="2165" dy="13.5">两人之间的距离同时发生什么变化?</tspan></text></g>
<g id="n4h5b4" class="n"><rect x="2160" y="4235" width="216" height="34"/><text x="2165" y="4249.1">当两人的距离是0时，我们就说这时两人怎样<tspan x="2165" dy="13.5">了(相遇了)两人运动的结果就是相遇</tspan></text></g>
<g id="n4h5b5" class="n"><rect x="2160" y="4293" width="216" height="34"/><text x="2165" y="4307.1">(4)同桌讨论：相遇时两人所走路程的和与两家<tspan x="2165" dy="13.5">距离有什么关系?(电脑辅助)</tspan></text></g>
<g id="n6a" class="n"><rect x="1753" y="4352" width="216" height="34"/><text x="1758" y="4366.1">★ 北师大版二年级上册数学复习教案最新文<tspan x="1758" dy="13.5">案</tspan></text></g>
<g id="n6b" class="n"><rect x="1753" y="4412" width="175" height="20.5"/><text x="1758" y="4426.1">★ 北师大版二年级上册数学复习教案</text></g>
<g id="n6c" class="n"><rect x="1753" y="4458" width="185" height="20.5"/><text x="1758" y="4472.1">★ 北师大二年级上册数学教案最新文本</text></g>
<g id="n6d" class="n"><rect x="1753" y="4504" width="216" height="34"/><text x="1758" y="4518.1">★ 新北师大版小学数学二年级上册教案最新<tspan x="1758" dy="13.5">范文</tspan></text></g>
<g id="n6e" class="n"><rect x="1753" y="4562" width="210" height="20.5"/><text x="1758" y="4576.1">★ 北师大小学数学二年级上册教案2021最新</text></g>
<g id="n6f" class="n"><rect x="1753" y="4608" width="216" height="34"/><text x="1758" y="4622.1">★ 北师大版二年级上册数学第九单元教案最<tspan x="1758" dy="13.5">新范文</tspan></text></g>
<g id="n6g" class="n"><rect x="1753" y="4667" width="216" height="34"/><text x="1758" y="4681.1">★ 北师大版数学二年级上册做个乘法表教案2<tspan x="1758" dy="13.5">021文案</tspan></text></g>
<g id="n6h" class="n"><rect x="1753" y="4726" width="216" height="34"/><text x="1758" y="4740.1">★ 2021最新北师大版二年级上册数学需要几<tspan x="1758" dy="13.5">个轮子教案</tspan></text></g>
<g id="n6i" class="n"><rect x="1753" y="4784" width="210" height="20.5"/><text x="1758" y="4798.1">★ 最新人教版二年级上册数学教案2021模板</text></g>
<g id="n6j" class="n"><rect x="1753" y="4830" width="216" height="34"/><text x="1758" y="4844.1">★ 新一年级上册人教数学总复习教案2021模<tspan x="1758" dy="13.5">板</tspan></text></g>
<g id="n3a" class="n"><rect x="836" y="2204" width="59" height="20.5"/><text x="841" y="2218.1">[教学内容]</text></g>
<g id="n3b" class="n"><rect x="836" y="2250" width="59" height="20.5"/><text x="841" y="2264.1">[教材简析]</text></g>
<g id="n3c" class="n"><rect x="679" y="2295" width="216" height="115"/><text x="684" y="2309.1">教材先通过主题图，让学生分类数一数1～5<tspan x="684" dy="13.5">五个数，接着用算珠表示数量1～5，对应着</tspan><tspan x="684" dy="13.5">出示数1～5，让学生认识并写数。用算珠直</tspan><tspan x="684" dy="13.5">观表示出1添上1是2，2添上1是3......可以使</tspan><tspan x="684" dy="13.5">学生感知1～5的联系，体会这五个数的数序</tspan><tspan x="684" dy="13.5">排列。通过数数、画画、写写等活动，加深学</tspan><tspan x="684" dy="13.5">生对1～5各数实际意义的认识，提高写数、</tspan><tspan x="684" dy="13.5">能力。、</tspan></text></g>
<g id="n3d" class="n"><rect x="836" y="2434" width="59" height="20.5"/><text x="841" y="2448.1">[教学目标]</text></g>
<g id="n3e" class="n"><rect x="679" y="2480" width="216" height="34"/><text x="684" y="2494.1">1、经历从生活情境中抽象出1～5各数的过程<tspan x="684" dy="13.5">，认识1～5，会读、写1～5各数。</tspan></text></g>
<g id="n3f" class="n"><rect x="679" y="2539" width="216" height="34"/><text x="684" y="2553.1">2、培养学习兴趣，能按顺序用数描述物体的<tspan x="684" dy="13.5">个数并进行、交流。、</tspan></text></g>
<g id="n3g" class="n"><rect x="679" y="2829" width="216" height="34"/><text x="684" y="2843.1">3、会用5以内的数描述生活中物体的个数，<tspan x="684" dy="13.5">体会数存在于日常生活中，初步建立数感。</tspan></text></g>
<g id="n3g1" class="n"><rect x="601" y="2598" width="57" height="20.5"/><text x="606" y="2612.1">[教学过程]</text></g>
<g id="n3g2" class="n"><rect x="586" y="2838" width="72" height="20.5"/><text x="591" y="2852.1">一、激情引趣</text></g>
<g id="n3g2a" class="n"><rect x="351" y="2642" width="216" height="61"/><text x="356" y="2656.1">谈话：小朋友们喜欢小动物吗，我们一起到动<tspan x="356" dy="13.5">物园游一游。(屏幕出示：猴子5只、斑马3匹</tspan><tspan x="356" dy="13.5">、熊猫1只、鸵鸟2只、孔雀、4只)这么多可</tspan><tspan x="356" dy="13.5">爱的动物中，你喜欢哪一种、</tspan></text></g>
<g id="n3g2b" class="n"><rect x="351" y="2728" width="216" height="34"/><text x="356" y="2742.1">数清你所喜欢的动物的个数，用相同个数的小<tspan x="356" dy="13.5">圆片表示、出来。、(学生动手摆圆片)</tspan></text></g>
<g id="n3g2c" class="n"><rect x="351" y="2786" width="216" height="47.5"/><text x="356" y="2800.1">与组内的小朋友说说：你喜欢的动物是什么、<tspan x="356" dy="13.5">你是用几个圆片来表示这种动物的只数的、(</tspan><tspan x="356" dy="13.5">学生小组内讨论)</tspan></text></g>
<g id="n3g2d" class="n"><rect x="351" y="2859" width="216" height="47.5"/><text x="356" y="2873.1">哪个小组的同学愿意说说你喜欢的动物有几只<tspan x="356" dy="13.5">、(学生在实物展台上摆出相应的圆片，学生</tspan><tspan x="356" dy="13.5">边说边摆，全班进行简单的评价。)</tspan></text></g>
<g id="n3g2e" class="n"><rect x="351" y="2932" width="216" height="34"/><text x="356" y="2946.1">小结：小朋友们所摆出的圆片都在1～5之间<tspan x="356" dy="13.5">，今天我们一起认识1～5。</tspan></text></g>
<g id="n3g2f" class="n"><rect x="351" y="2991" width="216" height="61"/><text x="356" y="3005.1">[评：教师根据小朋友喜爱小动物的特点引入<tspan x="356" dy="13.5">，创设了儿童喜欢的问题情境，激发起学生参</tspan><tspan x="356" dy="13.5">与学习的兴趣，同时在操作中巩固了用圆片可</tspan><tspan x="356" dy="13.5">以表示物体的个数。]</tspan></text></g>
<g id="n3g3" class="n"><rect x="535" y="3077" width="123" height="20.5"/><text x="540" y="3091.1">二、动手操作，合作探究</text></g>
<g id="n3h" class="n"><rect x="827" y="3150" width="68" height="20.5"/><text x="832" y="3164.1">1、摆一摆。</text></g>
<g id="n3h1" class="n"><rect x="591" y="3122" width="216" height="74.5"/><text x="596" y="3136.1">提问：你能根据所摆圆片的个数，从你的学具<tspan x="596" dy="13.5">卡片里找出相应的数字卡片吗、找一找，看谁</tspan><tspan x="596" dy="13.5">找得对、(学生活动，教师巡视学生操作情况)</tspan><tspan x="596" dy="13.5">组内同学相互评价摆得是否正确，请每组的一</tspan><tspan x="596" dy="13.5">名代表上台摆出圆片和数字卡片，全班交流。</tspan></text></g>
<g id="n3i" class="n"><rect x="827" y="3395" width="68" height="20.5"/><text x="832" y="3409.1">2、拨一拨。</text></g>
<g id="n3i1" class="n"><rect x="591" y="3220" width="216" height="47.5"/><text x="596" y="3234.1">讲述：小朋友们摆得很正确，下面老师给小朋<tspan x="596" dy="13.5">友们带来了一个新的学习伙伴——计数器。(</tspan><tspan x="596" dy="13.5">教师在计数器上拨上1个珠子)</tspan></text></g>
<g id="n3i2" class="n"><rect x="591" y="3292" width="216" height="47.5"/><text x="596" y="3306.1">提问：我在计数器上拨了几个珠子、(1个)又<tspan x="596" dy="13.5">添了几个、(1个)现在是几、2添上1是几、3</tspan><tspan x="596" dy="13.5">添上1是几、4添上1是几、</tspan></text></g>
<g id="n3i3" class="n"><rect x="591" y="3364" width="216" height="34"/><text x="596" y="3378.1">下面请大家在自己的计数器上依次从1拨到5<tspan x="596" dy="13.5">，再从5拨到1，好吗、(学生拨珠，边拨边说)</tspan></text></g>
<g id="n3i4" class="n"><rect x="591" y="3424" width="216" height="34"/><text x="596" y="3438.1">如果任意给你一张数字卡片，你能用计数器上<tspan x="596" dy="13.5">的珠子表示吗、、、</tspan></text></g>
<g id="n3i5" class="n"><rect x="591" y="3482" width="216" height="34"/><text x="596" y="3496.1">(教师出示数字卡片3、5、2、4、1，学生一<tspan x="596" dy="13.5">起操作)</tspan></text></g>
<g id="n3i6" class="n"><rect x="591" y="3542" width="216" height="47.5"/><text x="596" y="3556.1">谈话：像老师一样，一个小朋友出示卡片，组<tspan x="596" dy="13.5">内的其他小朋友来拨一拨。(学生组内进行拨</tspan><tspan x="596" dy="13.5">数活动)</tspan></text></g>
<g id="n3j" class="n"><rect x="827" y="3696" width="68" height="20.5"/><text x="832" y="3710.1">3、写一写。</text></g>
<g id="n3j1" class="n"><rect x="591" y="3613" width="216" height="47.5"/><text x="596" y="3627.1">谈话：刚才我们认识了1～5，你们愿意写一<tspan x="596" dy="13.5">写吗、自己先来试一试，把这些数写在自己的</tspan><tspan x="596" dy="13.5">本子上，从1写到5，看谁写得、最好、、</tspan></text></g>
<g id="n3j2" class="n"><rect x="591" y="3686" width="216" height="34"/><text x="596" y="3700.1">写完后，小组内的小朋友相互评价，最后教师<tspan x="596" dy="13.5">评价。</tspan></text></g>
<g id="n3j3" class="n"><rect x="591" y="3745" width="216" height="61"/><text x="596" y="3759.1">教师示范书写1～5，重点指导写5，第2笔，<tspan x="596" dy="13.5">在斜竖靠上的地方写横，注意要平。学生练习</tspan><tspan x="596" dy="13.5">书写。(学生重点练习书写数字5，教师巡视，</tspan><tspan x="596" dy="13.5">个别指导)</tspan></text></g>
<g id="n3k" class="n"><rect x="827" y="4009" width="68" height="20.5"/><text x="832" y="4023.1">4、说一说。</text></g>
<g id="n3k1" class="n"><rect x="591" y="3829" width="216" height="34"/><text x="596" y="3843.1">提问：生活中哪些地方你见到过1～5这几个<tspan x="596" dy="13.5">数、</tspan></text></g>
<g id="n3k2" class="n"><rect x="612" y="3889" width="195" height="20.5"/><text x="617" y="3903.1">随着学生想到的事物，屏幕出现实物图。</text></g>
<g id="n3k3" class="n"><rect x="622" y="3935" width="185" height="20.5"/><text x="627" y="3949.1">场景图：看，那是几路公共汽车、(2路)</text></g>
<g id="n3k4" class="n"><rect x="625" y="3981" width="182" height="20.5"/><text x="630" y="3995.1">丁丁家住几号楼几单元、(4号楼3单元)</text></g>
<g id="n3k5" class="n"><rect x="591" y="4025" width="216" height="128.5"/><text x="596" y="4039.1">[评：教师通过让学生自己操作，初步感知1～<tspan x="596" dy="13.5">5这几个数，每拨一次，珠子的个数就增加1</tspan><tspan x="596" dy="13.5">个，实际渗透了1～5各数是由几个一组成的</tspan><tspan x="596" dy="13.5">。在写一写的教学中，教师在学生已有的写数</tspan><tspan x="596" dy="13.5">水平上，先让学生自己尝试写数，然后再重点</tspan><tspan x="596" dy="13.5">讲解，充分了解学生的知识水平，针对性强。</tspan><tspan x="596" dy="13.5">同时，教师给了学生自主交流的空间，调动学</tspan><tspan x="596" dy="13.5">生的生活经验，让学生感受生活与数学的联系</tspan><tspan x="596" dy="13.5">。]</tspan></text></g>
<g id="n3k6" class="n"><rect x="735" y="4178" width="72" height="20.5"/><text x="740" y="4192.1">三、巩固新知</text></g>
<g id="n3l" class="n"><rect x="714" y="4326" width="181" height="20.5"/><text x="719" y="4340.1">1、小朋友知道教师节是几月几日吗、</text></g>
<g id="n3l1" class="n"><rect x="477" y="4224" width="216" height="34"/><text x="482" y="4238.1">教师节这天，小朋友把教室打扮得漂漂亮亮、<tspan x="482" dy="13.5">看!(屏幕出现庆祝教师节图)</tspan></text></g>
<g id="n3l2" class="n"><rect x="477" y="4283" width="216" height="34"/><text x="482" y="4297.1">提问：仔细观察，与小组的同学说说你看到了<tspan x="482" dy="13.5">什么、(学生小组讨论后，全班交流)</tspan></text></g>
<g id="n3l3" class="n"><rect x="477" y="4342" width="216" height="47.5"/><text x="482" y="4356.1">哪位同学能用数说说你所看到的事物、(1个男<tspan x="482" dy="13.5">孩拉琴，3个女孩跳舞，4个不同颜色的气球...</tspan><tspan x="482" dy="13.5">...)</tspan></text></g>
<g id="n3l4" class="n"><rect x="477" y="4414" width="216" height="34"/><text x="482" y="4428.1">根据学生的回答，教师在学生所指的事物旁，<tspan x="482" dy="13.5">依次出现数1、2、3、4、5......</tspan></text></g>
<g id="n3m" class="n"><rect x="785" y="4487" width="110" height="20.5"/><text x="790" y="4501.1">2、抢答：看图说数。</text></g>
<g id="n3m1" class="n"><rect x="549" y="4473" width="216" height="47.5"/><text x="554" y="4487.1">出示图：3根黄瓜，5个西红柿，2段藕，4个<tspan x="554" dy="13.5">萝卜，1棵、白菜、。(随着实物图的不断出现</tspan><tspan x="554" dy="13.5">，学生站起来说数，比比谁说得又对又快)</tspan></text></g>
<g id="n3n" class="n"><rect x="818" y="4592" width="77" height="20.5"/><text x="823" y="4606.1">3、猜数游戏。</text></g>
<g id="n3n1" class="n"><rect x="697" y="4546" width="99" height="20.5"/><text x="702" y="4560.1">(1)2后面的数是几、</text></g>
<g id="n3n2" class="n"><rect x="681" y="4592" width="115" height="20.5"/><text x="686" y="4606.1">(2)3和5之间的数是几、</text></g>
<g id="n3n3" class="n"><rect x="697" y="4637" width="99" height="20.5"/><text x="702" y="4651.1">(3)4前面的数是几、</text></g>
<g id="n3n3a" class="n"><rect x="473" y="4637" width="202" height="20.5"/><text x="478" y="4651.1">你们也可以与同桌互相玩一玩猜谜的游戏。</text></g>
<g id="n3o" class="n"><rect x="785" y="4696" width="110" height="20.5"/><text x="790" y="4710.1">4、你们爱吃水果吗、</text></g>
<g id="n3o1" class="n"><rect x="549" y="4682" width="216" height="47.5"/><text x="554" y="4696.1">屏幕出现水果图：1个西瓜，2个菠萝，3个梨<tspan x="554" dy="13.5">，4个草莓，5个香蕉。这些水果分别有几个</tspan><tspan x="554" dy="13.5">、</tspan></text></g>
<g id="n3p" class="n"><rect x="807" y="4877" width="88" height="20.5"/><text x="812" y="4891.1">5、出示花瓶图。</text></g>
<g id="n3p1" class="n"><rect x="570" y="4754" width="216" height="47.5"/><text x="575" y="4768.1">在这幅图中，每个花瓶里都缺少几朵花，用水<tspan x="575" dy="13.5">彩笔画出花瓶里缺少的花。(画完后，用实物</tspan><tspan x="575" dy="13.5">投影将图画展示给全班学生看)</tspan></text></g>
<g id="n3p2" class="n"><rect x="570" y="4826" width="216" height="61"/><text x="575" y="4840.1">[评：练习设计形式新颖，层次清楚。特别是<tspan x="575" dy="13.5">第3题猜数的游戏，实际是对今天所学知识的</tspan><tspan x="575" dy="13.5">巩固，学生练习时思维活跃，兴趣、浓厚。]</tspan><tspan x="575" dy="13.5">、</tspan></text></g>
<g id="n3p3" class="n"><rect x="748" y="4911" width="38" height="20.5"/><text x="753" y="4925.1">[总评]</text></g>
<g id="n3p4" class="n"><rect x="570" y="4957" width="216" height="74.5"/><text x="575" y="4971.1">本节课的设计重视学生通过学具操作主动参与<tspan x="575" dy="13.5">学习的过程。教学中，教师为学生主动参与创</tspan><tspan x="575" dy="13.5">设了良好的氛围，大量的动手操作为学生提供</tspan><tspan x="575" dy="13.5">了观察、交流、合作的时间和空间。归纳起来</tspan><tspan x="575" dy="13.5">有以下、几点：、</tspan></text></g>
<g id="n3q" class="n"><rect x="714" y="5097" width="181" height="20.5"/><text x="719" y="5111.1">1、面向全体，激发学生的学习兴趣。</text></g>
<g id="n3q1" class="n"><rect x="477" y="5056" width="216" height="101.5"/><text x="482" y="5070.1">在引入新课的过程中，教师用学生喜爱的小动<tspan x="482" dy="13.5">物，激发了学生的参与意识，符合低年级儿童</tspan><tspan x="482" dy="13.5">的心理特点。整个教学过程中，为学生设计的</tspan><tspan x="482" dy="13.5">动手操作、看谁写得最好、猜数游戏、找找生</tspan><tspan x="482" dy="13.5">活中1～5各数等一系列活动，充分调动了学</tspan><tspan x="482" dy="13.5">生参与学习的积极性，激发起学生学习的兴趣</tspan><tspan x="482" dy="13.5">。</tspan></text></g>
<g id="n3r" class="n"><rect x="714" y="5249" width="181" height="20.5"/><text x="719" y="5263.1">2、让学生在操作、交流中自主学习。</text></g>
<g id="n3r1" class="n"><rect x="477" y="5181" width="216" height="155.5"/><text x="482" y="5195.1">教师在这节课中为学生提供动手操作的机会很<tspan x="482" dy="13.5">多，体现了儿童"智慧长在手指尖上"的特点。</tspan><tspan x="482" dy="13.5">在拨一拨的过程中，学生充分认识了1～5各</tspan><tspan x="482" dy="13.5">数以及它们的顺序，实际也渗透了这几个数是</tspan><tspan x="482" dy="13.5">由几个一组成的，学生对这五个数的认识是深</tspan><tspan x="482" dy="13.5">刻的。通过"同桌交流"、"小组合作"等形式，</tspan><tspan x="482" dy="13.5">不仅巩固了今天所学的知识，更重要的是人人</tspan><tspan x="482" dy="13.5">参与了学习的过程，真正体现了学生的自主学</tspan><tspan x="482" dy="13.5">习。如练习中的猜数游戏，创设了开放的学习</tspan><tspan x="482" dy="13.5">环境，互相提问、互相解答，学生在交流的过</tspan><tspan x="482" dy="13.5">程中增进了积极参与学习的意识。</tspan></text></g>
<g id="n3s" class="n"><rect x="679" y="5406" width="216" height="34"/><text x="684" y="5420.1">3、结合生活实际，体现数学与生活的密切联<tspan x="684" dy="13.5">系。</tspan></text></g>
<g id="n3s1" class="n"><rect x="442" y="5359" width="216" height="128.5"/><text x="447" y="5373.1">数学知识于生活，应用于生活。在学习完1～<tspan x="447" dy="13.5">5各数之后，教师让学生找找生活中1～5各数</tspan><tspan x="447" dy="13.5">的应用，学生充分运用已有的经验，举出各种</tspan><tspan x="447" dy="13.5">实例。此时，教师又将与1～5有联系的生活</tspan><tspan x="447" dy="13.5">中常见的几楼几单元等实例呈现给学生，打开</tspan><tspan x="447" dy="13.5">学生的思路，学生体会到原来生活中与这五个</tspan><tspan x="447" dy="13.5">数有联系的事物还有很多，感受到数学与生活</tspan><tspan x="447" dy="13.5">的密切联系。培养学生喜爱数学的情感，促进</tspan><tspan x="447" dy="13.5">了学生的发展。</tspan></text></g>
<g id="n5a" class="n"><rect x="679" y="5512" width="216" height="34"/><text x="684" y="5526.1">教学内容：比例的意义、基本性质，比例各部<tspan x="684" dy="13.5">分名称，组比例。</tspan></text></g>
<g id="n5b" class="n"><rect x="832" y="5616" width="63" height="20.5"/><text x="837" y="5630.1">教学目标：</text></g>
<g id="n5b1" class="n"><rect x="597" y="5572" width="216" height="34"/><text x="602" y="5586.1">1. 使学生理解比例的意义，认识比例各部分<tspan x="602" dy="13.5">的名称。</tspan></text></g>
<g id="n5b2" class="n"><rect x="597" y="5638" width="216" height="47.5"/><text x="602" y="5652.1">2. 能运用比例的意义判断两个比能否组成比<tspan x="602" dy="13.5">例，并会组比例。理解并掌握比例的基本性质</tspan><tspan x="602" dy="13.5">。</tspan></text></g>
<g id="n5b2a" class="n"><rect x="403" y="5630" width="175" height="20.5"/><text x="408" y="5644.1">教学重点：比例的意义和基本性质。</text></g>
<g id="n5b2b" class="n"><rect x="413" y="5676" width="165" height="20.5"/><text x="418" y="5690.1">教学难点：理解比例的基本性质。</text></g>
<g id="n5c" class="n"><rect x="832" y="5812" width="63" height="20.5"/><text x="837" y="5826.1">教学过程：</text></g>
<g id="n5c1" class="n"><rect x="759" y="5755" width="54" height="20.5"/><text x="764" y="5769.1">一、 复习</text></g>
<g id="n5c1a" class="n"><rect x="523" y="5721" width="216" height="34"/><text x="528" y="5735.1">1、 提问：什么是比?一辆汽车4小时行160千<tspan x="528" dy="13.5">米，说出路程和时间的比。</tspan></text></g>
<g id="n5c1b" class="n"><rect x="530" y="5780" width="209" height="20.5"/><text x="535" y="5794.1">2、 求下面各比的比值，哪些比的比值相等?</text></g>
<g id="n5c1b1" class="n"><rect x="411" y="5780" width="99" height="20.5"/><text x="416" y="5794.1">12:16 : 4.5:2.7 10:6</text></g>
<g id="n5c2" class="n"><rect x="759" y="5869" width="54" height="20.5"/><text x="764" y="5883.1">二、 新授</text></g>
<g id="n5c2a" class="n"><rect x="523" y="5826" width="216" height="47.5"/><text x="528" y="5840.1">提示课题：这节课我们在过去学过比的知识的<tspan x="528" dy="13.5">基础上，学一个的知识：比例的意义和基本性</tspan><tspan x="528" dy="13.5">质。</tspan></text></g>
<g id="n5c2b" class="n"><rect x="660" y="5898" width="79" height="20.5"/><text x="665" y="5912.1">1、 比例的意义</text></g>
<g id="n5d" class="n"><rect x="679" y="5961" width="216" height="34"/><text x="684" y="5975.1">出示例1：一辆汽车第一次2小时行驶80千米<tspan x="684" dy="13.5">，第二次5小时行驶200千米。列表如下：</tspan></text></g>
<g id="n5d1" class="n"><rect x="594" y="5944" width="65" height="20.5"/><text x="599" y="5958.1">时间(时) 2 5</text></g>
<g id="n5d2" class="n"><rect x="565" y="5990" width="94" height="20.5"/><text x="570" y="6004.1">路程(千米) 80 200</text></g>
<g id="n5e" class="n"><rect x="739" y="6287" width="156" height="20.5"/><text x="744" y="6301.1">从上不中可以看到，这辆汽车：</text></g>
<g id="n5e1" class="n"><rect x="535" y="6035" width="184" height="20.5"/><text x="540" y="6049.1">第一次所行台的路程和时间的比是___;</text></g>
<g id="n5e2" class="n"><rect x="535" y="6540" width="184" height="20.5"/><text x="540" y="6554.1">第二次所行驶的路程和时间的比是___;</text></g>
<g id="n5f1" class="n"><rect x="310" y="6082" width="203" height="20.5"/><text x="315" y="6096.1">这两个比的比值各是多少?它们有什么关系?</text></g>
<g id="n5f2" class="n"><rect x="297" y="6133" width="216" height="61"/><text x="302" y="6147.1">(1) 根据学生回答，师板书结果后，师指出：<tspan x="302" dy="13.5">这两个比的比值都是40，所以这两个比是相</tspan><tspan x="302" dy="13.5">等的，可以用等号将两个比连起来写成下面的</tspan><tspan x="302" dy="13.5">等式。</tspan></text></g>
<g id="n5f2a" class="n"><rect x="160" y="6127" width="119" height="20.5"/><text x="165" y="6141.1">板书：80:2=200:5 或 =</text></g>
<g id="n5f2b" class="n"><rect x="63" y="6171" width="216" height="34"/><text x="68" y="6185.1">师：这样的式子，我们给它一个名字叫做比例<tspan x="68" dy="13.5">。</tspan></text></g>
<g id="n5f3" class="n"><rect x="469" y="6290" width="44" height="20.5"/><text x="474" y="6304.1">(2) 口答</text></g>
<g id="n5f3a" class="n"><rect x="231" y="6230" width="216" height="34"/><text x="236" y="6244.1">A、把复习第2题中两个比值相等的'比用等号<tspan x="236" dy="13.5">连起来。</tspan></text></g>
<g id="n5f3b" class="n"><rect x="274" y="6290" width="173" height="20.5"/><text x="279" y="6304.1">B、用等号连接起来的式子叫做什么?</text></g>
<g id="n5f3c" class="n"><rect x="231" y="6335" width="216" height="34"/><text x="236" y="6349.1">C、根据刚才的回答，你能说出什么叫比例吗<tspan x="236" dy="13.5">?</tspan></text></g>
<g id="n5f4" class="n"><rect x="458" y="6438" width="55" height="20.5"/><text x="463" y="6452.1">(3) 小结。</text></g>
<g id="n5f4a" class="n"><rect x="223" y="6395" width="216" height="34"/><text x="228" y="6409.1">A、表示两个比相等的式子叫做比例，两个比<tspan x="228" dy="13.5">的比值相等也就是这两个比相等。</tspan></text></g>
<g id="n5f4b" class="n"><rect x="223" y="6453" width="216" height="61"/><text x="228" y="6467.1">B、要判断两个比能否组成比例，可以看这两<tspan x="228" dy="13.5">个比的比值是否相等。比值相等的两个比可以</tspan><tspan x="228" dy="13.5">组成比例，比值不相等的两个比就不能组成比</tspan><tspan x="228" dy="13.5">例。</tspan></text></g>
<g id="n5f5" class="n"><rect x="364" y="6540" width="149" height="20.5"/><text x="369" y="6554.1">(4) 练习，课本第10页做一做。</text></g>
<g id="n5f5a" class="n"><rect x="233" y="6540" width="110" height="20.5"/><text x="238" y="6554.1">2、 比例的基本性质。</text></g>
<g id="n5f6" class="n"><rect x="396" y="6638" width="117" height="20.5"/><text x="401" y="6652.1">(1) 比例各部分的名称。</text></g>
<g id="n5f6a" class="n"><rect x="178" y="6584" width="197" height="20.5"/><text x="183" y="6598.1">引导学生观察黑板上的例题：80:2=200:5</text></g>
<g id="n5f6b" class="n"><rect x="315" y="6631" width="60" height="20.5"/><text x="320" y="6645.1">并自学课本</text></g>
<g id="n5f6c" class="n"><rect x="159" y="6676" width="216" height="47.5"/><text x="164" y="6690.1">提问：什么叫做比例的项?什么叫前项?什么叫<tspan x="164" dy="13.5">后项?什么叫内项?什么叫外项?这四项分别在</tspan><tspan x="164" dy="13.5">等号的什么位置?</tspan></text></g>
<g id="n5f7" class="n"><rect x="351" y="6748" width="162" height="20.5"/><text x="356" y="6762.1">(2) 说出下面各比例的外项和内项?</text></g>
<g id="n5f7a" class="n"><rect x="148" y="6748" width="182" height="20.5"/><text x="153" y="6762.1">6:10=9:15 8:3=3.2:1.2 1/3:1/6=16:8</text></g>
<g id="n5f8" class="n"><rect x="314" y="6794" width="199" height="20.5"/><text x="319" y="6808.1">(3) 计算：上面比例中的外项积与内项积。</text></g>
<g id="n5f9" class="n"><rect x="297" y="6839" width="216" height="34"/><text x="302" y="6853.1">(4) 引导学生观察每个比例中的计算结果，发<tspan x="302" dy="13.5">现这两个乘积有怎样的关系?</tspan></text></g>
<g id="n5f9a" class="n"><rect x="63" y="6839" width="216" height="34"/><text x="68" y="6853.1">师：想一想，如果把比例写成分数形式，等号<tspan x="68" dy="13.5">两端的分子分母交叉相乘的积有什么关系?</tspan></text></g>
<g id="n5f10" class="n"><rect x="406" y="7002" width="107" height="20.5"/><text x="411" y="7016.1">(5)你能得出什么结论?</text></g>
<g id="n5g1" class="n"><rect x="312" y="6922" width="73" height="20.5"/><text x="317" y="6936.1">三、 巩固练习</text></g>
<g id="n5g1a" class="n"><rect x="163" y="6899" width="128" height="20.5"/><text x="168" y="6913.1">1、 完成第2页的做一做。</text></g>
<g id="n5g1b" class="n"><rect x="137" y="6945" width="154" height="20.5"/><text x="142" y="6959.1">2、 完成第3页的做一做第1题。</text></g>
<g id="n5g2" class="n"><rect x="331" y="7013" width="54" height="20.5"/><text x="336" y="7027.1">四、 总结</text></g>
<g id="n5g2a" class="n"><rect x="143" y="6991" width="169" height="20.5"/><text x="148" y="7005.1">1、 比例的意义和基本性质是什么?</text></g>
<g id="n5g2b" class="n"><rect x="143" y="7036" width="169" height="20.5"/><text x="148" y="7050.1">2、 怎样判断两个比能否组成比例?</text></g>
<g id="n5g3" class="n"><rect x="331" y="7081" width="54" height="20.5"/><text x="336" y="7095.1">五、 作业</text></g>
<g id="n5g3a" class="n"><rect x="172" y="7081" width="140" height="20.5"/><text x="177" y="7095.1">1、 完成练习四的第1-3题。</text></g>
<g id="watermarks">
<text class="wm" text-anchor="middle" dy=".35em" textLength="630" lengthAdjust="spacingAndGlyphs" transform="translate(645,515) rotate(-28)">树图 shutu.cn</text>
<text class="wm" text-anchor="middle" dy=".35em" textLength="630" lengthAdjust="spacingAndGlyphs" transform="translate(645,1515) rotate(-28)">树图 shutu.cn</text>
<text class="wm" text-anchor="middle" dy=".35em" textLength="630" lengthAdjust="spacingAndGlyphs" transform="translate(645,2515) rotate(-28)">树图 shutu.cn</text>
<text class="wm" text-anchor="middle" dy=".35em" textLength="630" lengthAdjust="spacingAndGlyphs" transform="translate(645,3515) rotate(-28)">树图 shutu.cn</text>
<text class="wm" text-anchor="middle" dy=".35em" textLength="630" lengthAdjust="spacingAndGlyphs" transform="translate(645,4515) rotate(-28)">树图 shutu.cn</text>
<text class="wm" text-anchor="middle" dy=".35em" textLength="630" lengthAdjust="spacingAndGlyphs" transform="translate(645,5515) rotate(-28)">树图 shutu.cn</text>
<text class="wm" text-anchor="middle" dy=".35em" textLength="630" lengthAdjust="spacingAndGlyphs" transform="translate(645,6515) rotate(-28)">树图 shutu.cn</text>
<text class="wm" text-anchor="middle" dy=".35em" textLength="630" lengthAdjust="spacingAndGlyphs" transform="translate(1925,515) rotate(-28)">树图 shutu.cn</text>
<text class="wm" text-anchor="middle" dy=".35em" textLength="630" lengthAdjust="spacingAndGlyphs" transform="translate(1925,1515) rotate(-28)">树图 shutu.cn</text>
<text class="wm" text-anchor="middle" dy=".35em" textLength="630" lengthAdjust="spacingAndGlyphs" transform="translate(1925,2515) rotate(-28)">树图 shutu.cn</text>
<text class="wm" text-anchor="middle" dy=".35em" textLength="630" lengthAdjust="spacingAndGlyphs" transform="translate(1925,3515) rotate(-28)">树图 shutu.cn</text>
<text class="wm" text-anchor="middle" dy=".35em" textLength="630" lengthAdjust="spacingAndGlyphs" transform="translate(1925,4515) rotate(-28)">树图 shutu.cn</text>
<text class="wm" text-anchor="middle" dy=".35em" textLength="630" lengthAdjust="spacingAndGlyphs" transform="translate(1925,5515) rotate(-28)">树图 shutu.cn</text>
<text class="wm" text-anchor="middle" dy=".35em" textLength="630" lengthAdjust="spacingAndGlyphs" transform="translate(1925,6515) rotate(-28)">树图 shutu.cn</text>
</g>
</svg>
